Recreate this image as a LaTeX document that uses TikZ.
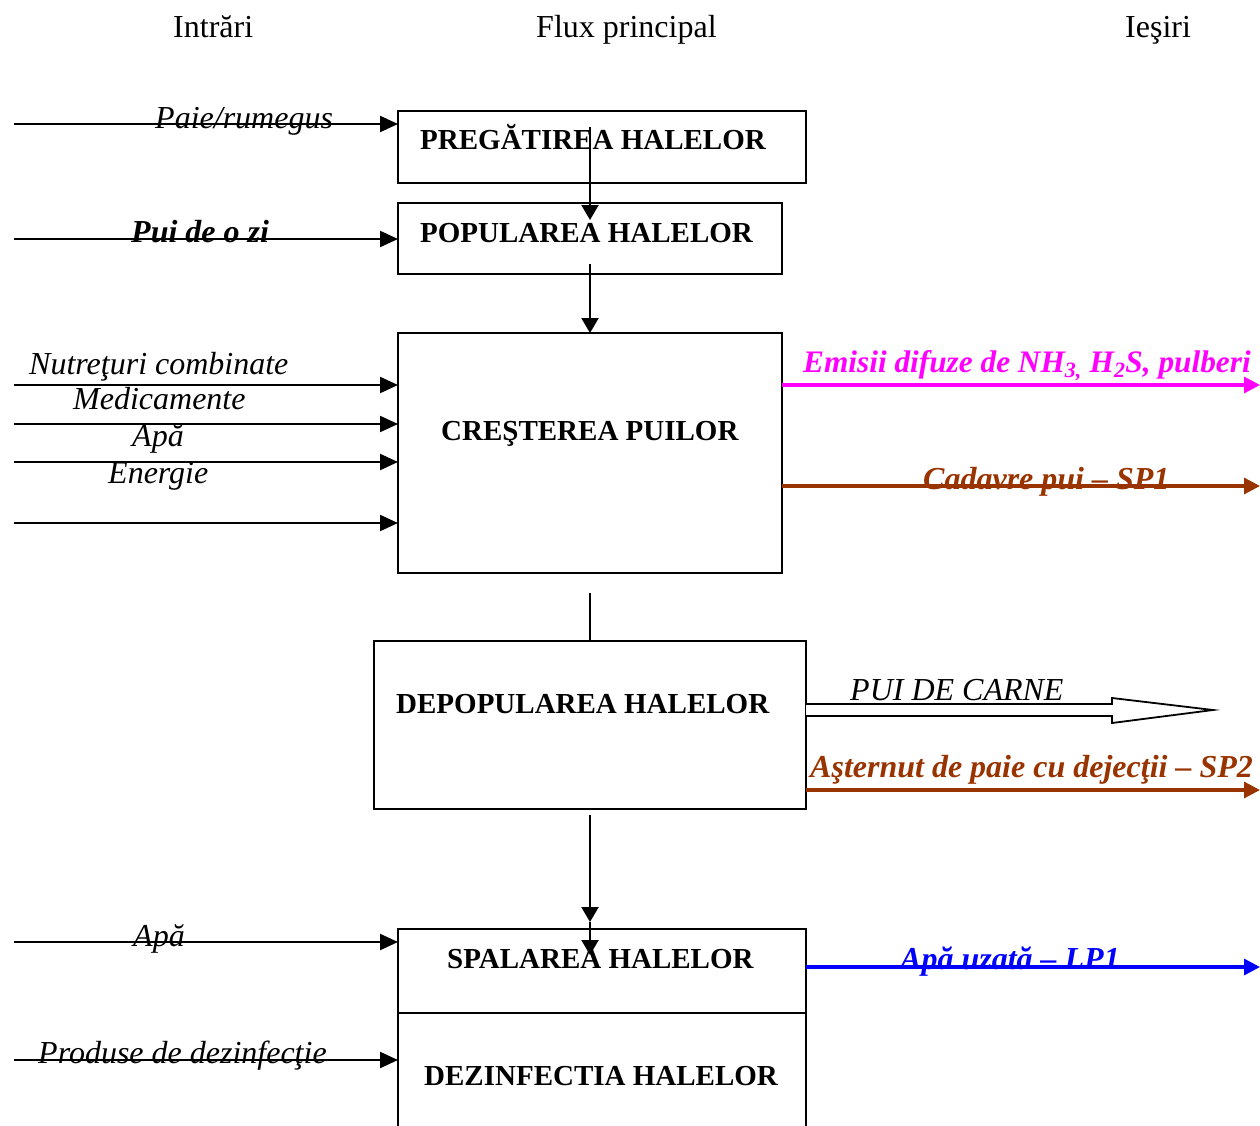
\documentclass[tikz,border=0pt]{standalone}
\usepackage{fontspec}
\setmainfont{Liberation Serif}
\usetikzlibrary{arrows.meta}
\definecolor{mag}{RGB}{255,0,255}
\definecolor{brn}{RGB}{153,51,0}
\definecolor{blu}{RGB}{0,0,255}
\begin{document}
\begin{tikzpicture}[x=1pt,y=-1pt,
  box/.style={draw,line width=2pt,inner sep=0pt,outer sep=0pt,anchor=north west},
  boxtxt/.style={font=\fontsize{29}{34}\selectfont\bfseries,inner sep=0pt,anchor=base west},
  hdr/.style={font=\fontsize{32}{38}\selectfont,inner sep=0pt,anchor=base west},
  lab/.style={font=\fontsize{32}{38}\selectfont\itshape,inner sep=0pt,anchor=base west},
  blab/.style={font=\fontsize{32}{38}\selectfont\bfseries\itshape,inner sep=0pt,anchor=base west},
  inarr/.style={draw,line width=2.2pt,-{Triangle[length=18pt,width=16pt]}},
  varr/.style={draw,line width=2.2pt,-{Triangle[length=15pt,width=17pt]}},
  outarr/.style={draw,line width=3.2pt,-{Triangle[length=16pt,width=16pt]}}]
\useasboundingbox (0,0) rectangle (1260,1126);
\fill[white] (0,0) rectangle (1260,1126);

% headers
\node[hdr] (h1) at (173,38) {Intrări};
\node[hdr] (h2) at (536,38) {Flux principal};
\node[hdr] (h3) at (1125,38) {Ieşiri};

% boxes
\node[box,minimum width=408pt,minimum height=72pt] (b1) at (398,111) {};
\node[box,minimum width=384pt,minimum height=71pt] (b2) at (398,203) {};
\node[box,minimum width=384pt,minimum height=240pt] (b3) at (398,333) {};
\node[box,minimum width=432pt,minimum height=168pt] (b4) at (374,641) {};
\node[box,minimum width=408pt,minimum height=84pt] (b5) at (398,929) {};
\node[box,minimum width=408pt,minimum height=140pt] (b6) at (398,1013) {};

% box texts
\node[boxtxt] (t1) at (420,150) {PREGĂTIREA HALELOR};
\node[boxtxt] (t2) at (420,242) {POPULAREA HALELOR};
\node[boxtxt] (t3) at (441,440) {CREŞTEREA PUILOR};
\node[boxtxt] (t4) at (396,713) {DEPOPULAREA HALELOR};
\node[boxtxt] (t5) at (447,968) {SPALAREA HALELOR};
\node[boxtxt] (t6) at (424,1085) {DEZINFECTIA HALELOR};

% vertical flow
\coordinate (v1s) at (590,127);
\coordinate (v1e) at (590,220);
\draw[varr] (v1s) -- (v1e);
\coordinate (v2s) at (590,264);
\draw[varr] (v2s) -- (v2s |- b3.north);
\coordinate (v3s) at (590,593);
\draw[line width=2.2pt] (v3s) -- (v3s |- b4.north);
\coordinate (v4s) at (590,815);
\coordinate (v4m) at (590,922);
\coordinate (v4e) at (590,955);
\draw[varr] (v4s) -- (v4m);
\draw[varr] (v4m) -- (v4e);

% inputs
\coordinate (i1) at (14,124);
\coordinate (i2) at (14,239);
\coordinate (i3) at (14,385);
\coordinate (i4) at (14,424);
\coordinate (i5) at (14,462);
\coordinate (i6) at (14,523);
\coordinate (i7) at (14,942);
\coordinate (i8) at (14,1060);
\draw[inarr] (i1) -- (i1 -| b1.west);
\draw[inarr] (i2) -- (i2 -| b2.west);
\draw[inarr] (i3) -- (i3 -| b3.west);
\draw[inarr] (i4) -- (i4 -| b3.west);
\draw[inarr] (i5) -- (i5 -| b3.west);
\draw[inarr] (i6) -- (i6 -| b3.west);
\draw[inarr] (i7) -- (i7 -| b5.west);
\draw[inarr] (i8) -- (i8 -| b6.west);

\node[lab] (l1) at (155,129) {Paie/rumegus};
\node[blab] (l2) at (131,242) {Pui de o zi};
\node[lab] (l3) at (29,374) {Nutreţuri combinate};
\node[lab] (l4) at (73,409) {Medicamente};
\node[lab] (l5) at (132,446) {Apă};
\node[lab] (l6) at (108,483) {Energie};
\node[lab] (l7) at (133,946) {Apă};
\node[lab] (l8) at (38,1063) {Produse de dezinfecţie};

% outputs
\coordinate (o1) at (1260,385);
\coordinate (o2) at (1260,486);
\coordinate (o3) at (1260,790);
\coordinate (o4) at (1260,967);
\draw[outarr,mag] (o1 -| b3.east) -- (o1);
\draw[outarr,brn] (o2 -| b3.east) -- (o2);
\draw[outarr,brn] (o3 -| b4.east) -- (o3);
\draw[outarr,blu] (o4 -| b5.east) -- (o4);

\node[blab,text=mag,font=\fontsize{31.3}{38}\selectfont\bfseries\itshape] (r1) at (803,372) {Emisii difuze de NH\textsubscript{3,} H\textsubscript{2}S, pulberi};
\node[blab,text=brn] (r2) at (923,489) {Cadavre pui – SP1};
\node[blab,text=brn] (r3) at (810,777) {Aşternut de paie cu dejecţii – SP2};
\node[blab,text=blu] (r4) at (900,969) {Apă uzată – LP1};

% hollow arrow PUI DE CARNE
\coordinate (pa) at (806,704);
\coordinate (pb) at (806,716);
\draw[line width=1.8pt,line join=miter,fill=white]
  (pa -| b4.east) -- (1112,704) -- (1112,698) -- (1213,710) -- (1112,723) -- (1112,716) -- (pb -| b4.east);
\node[lab] (r5) at (850,700) {PUI DE CARNE};
\end{tikzpicture}
\end{document}
